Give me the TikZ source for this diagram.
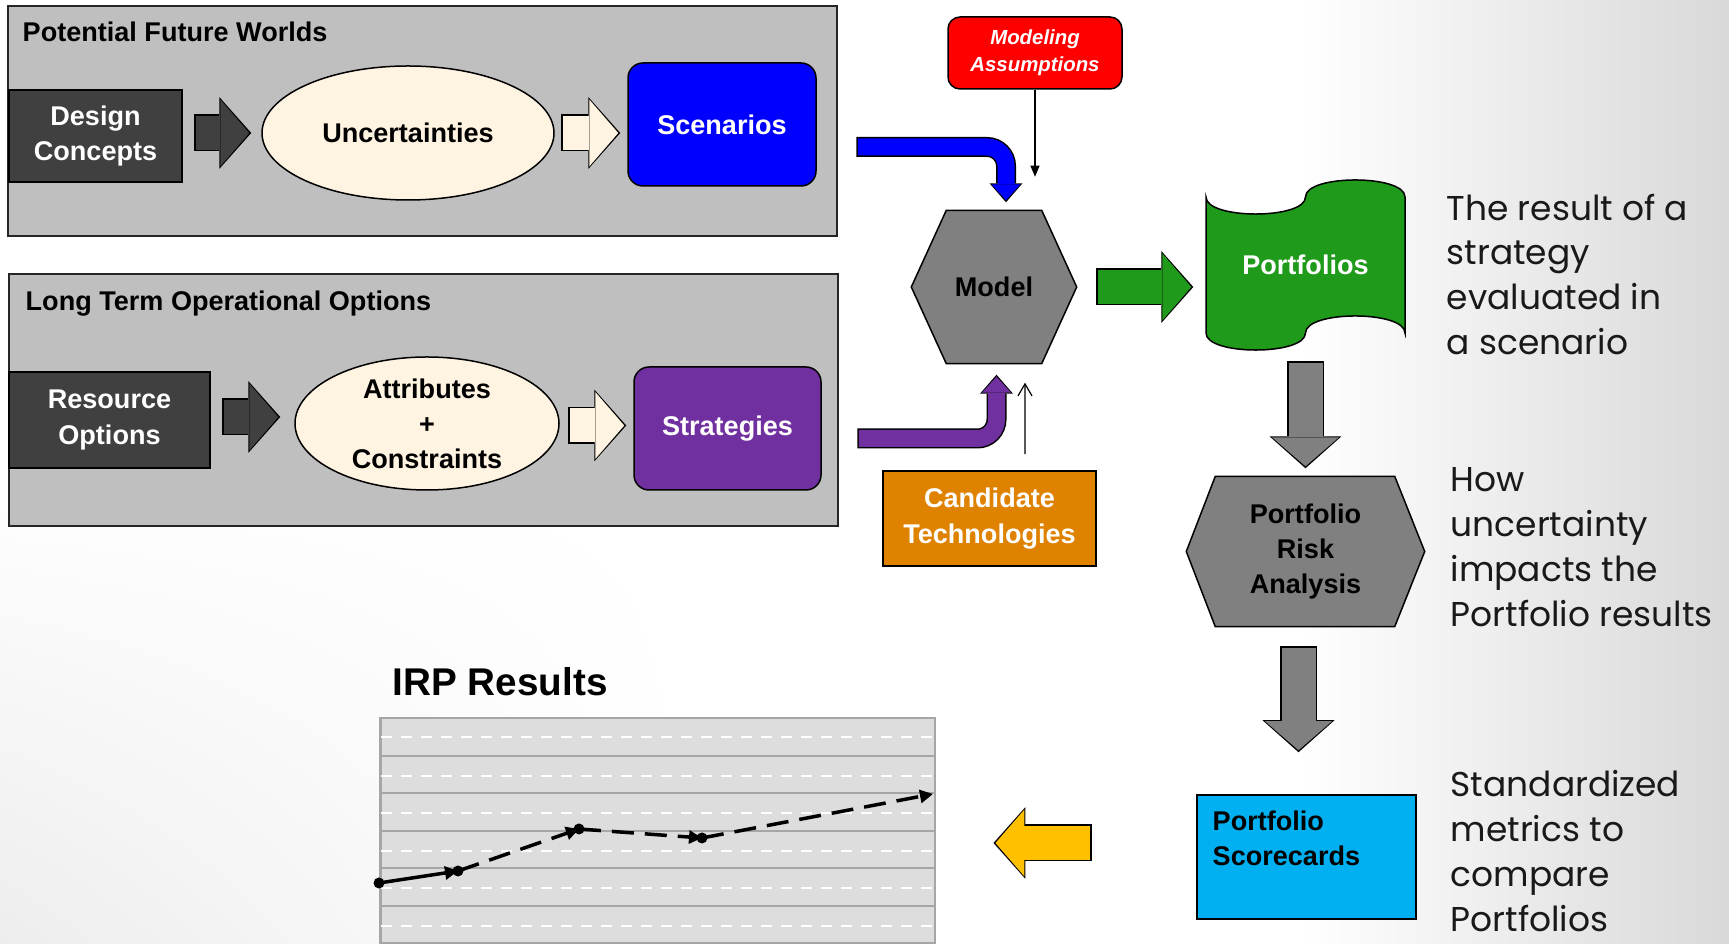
\documentclass[tikz,border=0pt]{standalone}
\usepackage{fontspec}
\setmainfont{Liberation Sans}
\newfontfamily\gothic{Poppins}
\usetikzlibrary{positioning, arrows.meta, calc, backgrounds, shapes.geometric, shadings}
\definecolor{ink}{HTML}{404040}
\definecolor{cream}{HTML}{FFF4E2}
\definecolor{panelgray}{HTML}{BFBFBF}
\definecolor{scenblue}{HTML}{0000FF}
\definecolor{stratpurple}{HTML}{7030A0}
\definecolor{assumred}{HTML}{FF0000}
\definecolor{techorange}{HTML}{DF8200}
\definecolor{portgreen}{HTML}{1F9A1A}
\definecolor{midgray}{HTML}{808080}
\definecolor{cardblue}{HTML}{00B0F0}
\definecolor{arrowyellow}{HTML}{FFC000}
\definecolor{chartbg}{HTML}{DDDDDD}
\definecolor{gridgray}{HTML}{A6A6A6}

\begin{document}
\begin{tikzpicture}[x=0.1mm,y=-0.1mm,font=\bfseries\fontsize{7.7}{10}\selectfont,
  panel/.style={draw=black!85,fill=panelgray,line width=0.2mm,minimum width=82.9mm,inner sep=0},
  ttl/.style={anchor=base west,inner sep=0},
  box/.style={draw,line width=0.15mm,align=center,inner sep=0},
  oval/.style={draw,ellipse,fill=cream,line width=0.15mm,align=center,inner sep=0},
  hexfill/.style={draw,fill=midgray,line width=0.15mm},
  note/.style={font=\gothic\mdseries\fontsize{9.8}{12.8}\selectfont,anchor=north west,align=left,inner sep=0,text=black!90},
  blk/.style={preaction={draw=black,line width=3.7mm,shorten <=-0.15mm,shorten >=0mm,-{Triangle[width=7.2mm,length=3.2mm,line width=0pt]}},
    draw=#1,line width=3.4mm,shorten <=0mm,shorten >=0.2mm,-{Triangle[width=6.7mm,length=2.9mm,line width=0pt]}},
  bendarr/.style={rounded corners=1.9mm,preaction={draw=black,line width=2.0mm,shorten <=-0.15mm,shorten >=0mm,-{Triangle[width=3.3mm,length=1.9mm,line width=0pt]}},
    draw=#1,line width=1.7mm,shorten <=0mm,shorten >=0.2mm,-{Triangle[width=2.9mm,length=1.6mm,line width=0pt]}},
  serie/.style={line width=0.35mm,-{Triangle[length=1.3mm,width=1.3mm]}}]
  \useasboundingbox (0,0) rectangle (1729,944);

  % the two option panels
  \node[panel,minimum height=23mm] (pfw) at (422.5,121) {};
  \node[ttl] (pfwt) at (22,42) {Potential Future Worlds};
  \node[panel,minimum height=25.2mm] (ltoo) at (423.5,400) {};
  \node[ttl] (ltoot) at (25,311) {Long Term Operational Options};

  \node[box,fill=ink,text=white,minimum width=17.3mm,minimum height=9.2mm] (dc) at (95.5,136) {Design\\Concepts};
  \node[oval,minimum width=29.2mm,minimum height=13.4mm] (unc) at (408,133) {Uncertainties};
  \node[box,fill=scenblue,text=white,rounded corners=1.5mm,minimum width=18.8mm,minimum height=12.3mm] (scen) at (722,124.5) {Scenarios};
  \node[box,fill=ink,text=white,minimum width=20.1mm,minimum height=9.6mm] (ro) at (109.5,420) {Resource\\Options};
  \node[oval,minimum width=26.4mm,minimum height=13.3mm] (attr) at (427,423.5) {Attributes\\+\\Constraints};
  \node[box,fill=stratpurple,text=white,rounded corners=1.5mm,minimum width=18.7mm,minimum height=12.3mm] (strat) at (727.5,428.5) {Strategies};

  \draw[blk=ink] ($(dc.east |- unc)+(13,0)$) -- ($(unc.west)+(-10,0)$);
  \draw[blk=cream] ($(unc.east)+(8,0)$) -- ($(scen.west |- unc.east)+(-7,0)$);
  \draw[blk=ink] ($(ro.east)+(13,-3)$) -- ($(attr.west)+(-14,-6.5)$);
  \draw[blk=cream] ($(attr.east)+(10,2)$) -- ($(strat.west)+(-7,-3)$);

  % model and its inputs
  \node[box,fill=assumred,text=white,rounded corners=1.2mm,minimum width=17.4mm,minimum height=7.2mm,
    font=\bfseries\itshape\fontsize{5.8}{7.7}\selectfont] (ma) at (1035,53) {Modeling\\Assumptions};
  \node[inner sep=0,minimum width=16.4mm,minimum height=15.2mm] (model) at (994,287) {Model};
  \node[box,fill=techorange,text=white,minimum width=21.3mm,minimum height=9.5mm] (ct) at (989.5,518.5) {Candidate\\Technologies};

  \coordinate (bsrc) at ($(pfw.east)+(20,26)$);
  \coordinate (btip) at ($(model.north)+(12,-8)$);
  \coordinate (psrc) at ($(ltoo.east)+(20,38.5)$);
  \coordinate (ptip) at ($(model.south)+(2.5,11)$);
  \draw[bendarr=scenblue] (bsrc) -- (bsrc -| btip) -- (btip);
  \draw[bendarr=stratpurple] (psrc) -- (psrc -| ptip) -- (ptip);
  \draw[line width=0.12mm,-{Triangle[length=1.1mm,width=0.9mm]}] (ma) -- ($(ma.south)+(0,87)$);
  \draw[line width=0.12mm,-{Straight Barb[length=1.2mm,width=1.4mm]}] ($(ct.north)+(35.5,-16)$) -- ($(model.south)+(31,19)$);

  % results column
  \node[inner sep=0,text=white,minimum width=19.9mm,minimum height=17mm] (port) at (1305.5,265) {Portfolios};
  \node[inner sep=0,align=center,minimum width=23.7mm,minimum height=14.9mm] (pra) at (1305.5,551.5) {Portfolio\\Risk\\Analysis};
  \node[box,fill=cardblue,minimum width=21.9mm,minimum height=12.4mm] (psc) at (1306.5,857) {};
  \node[anchor=north west,inner sep=0,align=left] (psct) at (1212,810) {Portfolio\\Scorecards};

  \draw[blk=portgreen] ($(model.east)+(21,0)$) -- ($(port.west |- model.east)+(-12,0)$);
  \draw[blk=midgray] ($(port.south)+(0,12)$) -- ($(pra.north)+(0,-8)$);
  \draw[blk=midgray] ($(pra.south)+(-7,21)$) -- ($(psc.north)+(-8,-42)$);

  \node[note] (n1) at (1446,193) {The result of a\\strategy\\evaluated in\\a scenario};
  \node[note] (n2) at (1450,467) {How\\uncertainty\\impacts the\\Portfolio results};
  \node[note] (n3) at (1450,770) {Standardized\\metrics to\\compare\\Portfolios};

  % chart
  \node[font=\bfseries\fontsize{11}{13}\selectfont,anchor=base west,inner sep=0] (irp) at (392,696) {IRP Results};
  \node[draw=gridgray,fill=chartbg,line width=0.25mm,anchor=north west,minimum width=55.5mm,minimum height=23mm,inner sep=0] (chart) at (379,717) {};
  \foreach \y in {756,793,831,868,906,943}
    \draw[gridgray,line width=0.25mm] (379,\y) -- (934,\y);
  \foreach \y in {737,776,813,851,888,926}
    \draw[white,line width=0.25mm,dash pattern=on 1.1mm off 0.9mm] (381,\y) -- (934,\y);
  \coordinate (s1) at (379,883);
  \coordinate (s2) at (458,871);
  \coordinate (s3) at (579,829);
  \coordinate (s4) at (702,838);
  \coordinate (s5) at (933,794);
  \draw[serie] (s1) -- (s2);
  \draw[serie,dash pattern=on 2.2mm off 1.1mm] (s2) -- (s3);
  \draw[serie,dash pattern=on 2.2mm off 1.1mm] (s3) -- (s4);
  \draw[serie,dash pattern=on 2.2mm off 1.1mm] (s4) -- (s5);
  \foreach \p in {s1,s2,s3,s4}
    \fill (\p) circle[radius=0.55mm];

  \draw[blk=arrowyellow] ($(psc.west)+(-106,-14)$) -- ($(chart.east |- psc.west)+(57,-14)$);

  \begin{scope}[on background layer]
    \shade[lower left=black!7,upper left=white,upper right=white,lower right=white] (0,470) rectangle (700,944);
    \shade[left color=white,right color=black!15] (1300,0) rectangle (1729,944);
    \filldraw[hexfill] (model.west) -- ($(model.north west)+(35,0)$) -- ($(model.north east)+(-35,0)$) -- (model.east)
      -- ($(model.south east)+(-35,0)$) -- ($(model.south west)+(35,0)$) -- cycle;
    \filldraw[hexfill] (pra.west) -- ($(pra.north west)+(29,0)$) -- ($(pra.north east)+(-30,0)$) -- (pra.east)
      -- ($(pra.south east)+(-30,0)$) -- ($(pra.south west)+(29,0)$) -- cycle;
    % waving banner behind Portfolios
    \begin{scope}[shift={(port.center)}]
      \filldraw[draw=black,fill=portgreen,line width=0.15mm] (-99.5,-68) .. controls (-99.5,-45.3) and (0,-45.3) .. (0,-68)
        .. controls (0,-90.7) and (99.5,-90.7) .. (99.5,-68) -- (99.5,68)
        .. controls (99.5,45.3) and (0,45.3) .. (0,68) .. controls (0,90.7) and (-99.5,90.7) .. (-99.5,68) -- cycle;
    \end{scope}
  \end{scope}
\end{tikzpicture}
\end{document}
